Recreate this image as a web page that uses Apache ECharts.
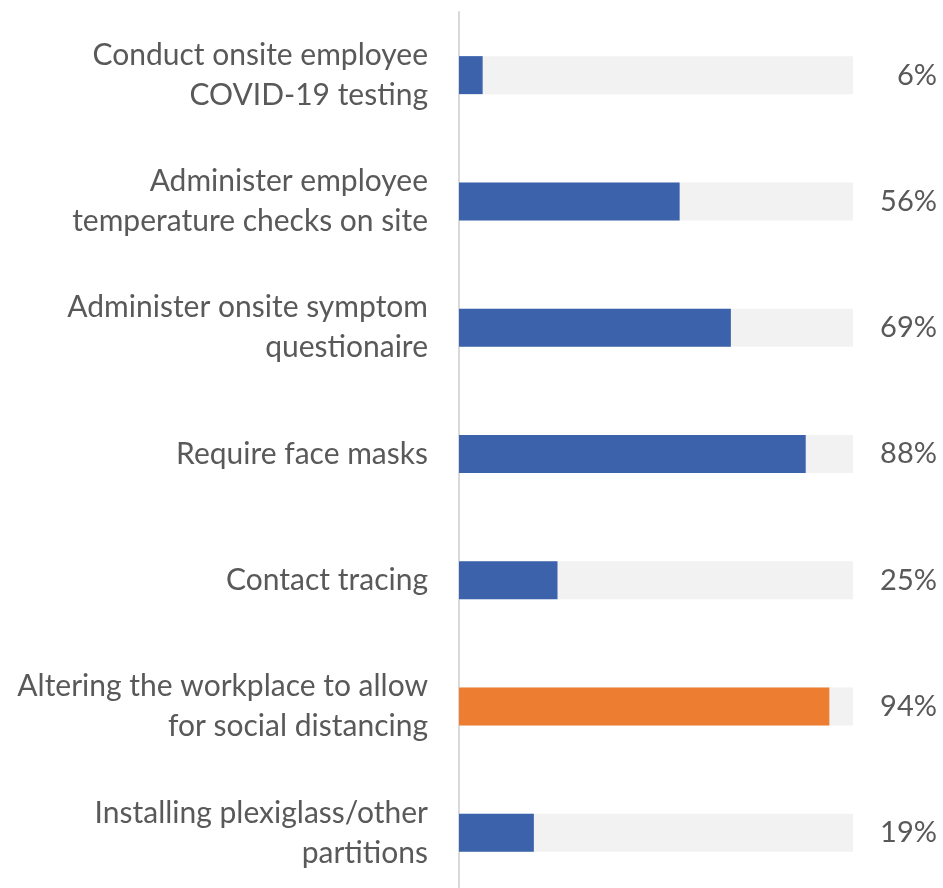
<!DOCTYPE html>
<html>
<head>
<meta charset="utf-8">
<script src="https://cdn.jsdelivr.net/npm/echarts@6/dist/echarts.min.js"></script>
<style>
  html, body { margin: 0; padding: 0; background: #fff; overflow: hidden; }
  #chart { width: 943px; height: 898px; }
</style>
</head>
<body>
<div id="chart"></div>
<script>
var categories = [
  'Conduct onsite employee\nCOVID-19 testing',
  'Administer employee\ntemperature checks on site',
  'Administer onsite symptom\nquestionaire',
  'Require face masks',
  'Contact tracing',
  'Altering the workplace to allow\nfor social distancing',
  'Installing plexiglass/other\npartitions'
];
var values = [6, 56, 69, 88, 25, 94, 19];
var highlightIndex = 5;

var blue = '#3b62ab';
var orange = '#ed7d31';

// category axis runs top to bottom
var cats = categories.slice().reverse();
var vals = values.slice().reverse();
var hi = categories.length - 1 - highlightIndex;

var fullData = [];
var barData = [];
for (var i = 0; i < vals.length; i++) {
  fullData.push(100);
  barData.push({
    value: vals[i],
    itemStyle: { color: i == hi ? orange : blue }
  });
}

// chart box is a bit taller than the window, the last band runs off the bottom edge
var myChart = echarts.init(document.getElementById('chart'));
var option = {
  animation: false,
  grid: { left: 459, top: 12, width: 394, height: 884 },
  xAxis: {
    type: 'value', min: 0, max: 100, show: false
  },
  yAxis: {
    type: 'category',
    data: cats,
    axisLine: { show: true, lineStyle: { color: '#d9d9d9', width: 2 } },
    axisTick: { show: false },
    axisLabel: {
      margin: 31,
      color: '#595959',
      fontFamily: 'Lato',
      fontSize: 30,
      lineHeight: 40,
      align: 'right'
    }
  },
  series: [
    {
      type: 'bar',
      data: fullData,
      barWidth: 38,
      barGap: '-100%',
      silent: true,
      itemStyle: { color: '#f2f2f2' },
      label: {
        show: true,
        position: 'right',
        distance: 84,
        align: 'right',
        color: '#595959',
        fontFamily: 'Lato',
        fontSize: 29,
        formatter: function (p) { return vals[p.dataIndex] + '%'; }
      }
    },
    {
      type: 'bar',
      data: barData,
      barWidth: 38,
      barGap: '-100%'
    }
  ]
};
myChart.setOption(option);
</script>
</body>
</html>
